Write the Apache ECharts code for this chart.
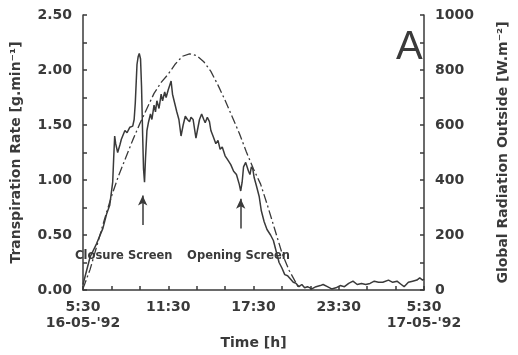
<!DOCTYPE html>
<html>
<head>
<meta charset="utf-8">
<script src="https://cdn.jsdelivr.net/npm/echarts@6/dist/echarts.min.js"></script>
<style>
  html, body { margin: 0; padding: 0; background: #fff; }
  #chart { width: 518px; height: 355px; }
</style>
</head>
<body>
<div id="chart"></div>
<script>
// Hours after 05:30 on 16-05-'92 and the transpiration rate [g/min]
const transHours = [
  0, 0.5, 0.95, 1.4, 1.66, 1.88, 2.09, 2.16, 2.23, 2.3, 2.44, 2.6, 2.7, 2.95, 3.1, 3.3, 3.5, 3.6, 3.68, 3.8,
  3.88, 3.96, 4.05, 4.12, 4.2, 4.26, 4.33, 4.4, 4.5, 4.6, 4.75, 4.85, 5.0, 5.1, 5.2, 5.35, 5.5, 5.6, 5.75, 5.85,
  6.0, 6.1, 6.2, 6.3, 6.45, 6.6, 6.75, 6.9, 7.05, 7.2, 7.35, 7.5, 7.6, 7.75, 7.95, 8.05, 8.2, 8.35, 8.5, 8.6,
  8.75, 8.9, 9.0, 9.15, 9.35, 9.5, 9.65, 9.8, 10.0, 10.2, 10.4, 10.6, 10.8, 11.0, 11.1, 11.2, 11.3, 11.45, 11.55, 11.65,
  11.75, 11.85, 11.95, 12.05, 12.2, 12.4, 12.55, 12.75, 12.95, 13.2, 13.4, 13.6, 13.8, 14.0, 14.2, 14.4, 14.6, 14.8, 15.0, 15.2,
  15.4, 15.6, 15.8, 16.1, 16.4, 16.7, 16.9, 17.2, 17.5, 17.8, 18.1, 18.4, 18.7, 19.0, 19.3, 19.6, 19.9, 20.2, 20.5, 20.8,
  21.1, 21.5, 21.8, 22.1, 22.4, 22.6, 22.9, 23.2, 23.5, 23.7, 23.9, 24
];
const transRate = [
  0.05, 0.30, 0.42, 0.56, 0.69, 0.77, 0.98, 1.20, 1.40, 1.33, 1.25, 1.32, 1.37, 1.45, 1.43, 1.48, 1.49, 1.55, 1.70, 2.05,
  2.12, 2.15, 2.10, 1.85, 1.40, 1.10, 0.98, 1.20, 1.45, 1.52, 1.60, 1.55, 1.68, 1.62, 1.72, 1.65, 1.78, 1.72, 1.80, 1.75,
  1.82, 1.86, 1.90, 1.78, 1.70, 1.62, 1.55, 1.40, 1.50, 1.58, 1.55, 1.53, 1.57, 1.55, 1.38, 1.45, 1.55, 1.60, 1.55, 1.52,
  1.57, 1.53, 1.45, 1.40, 1.33, 1.36, 1.28, 1.30, 1.22, 1.18, 1.14, 1.08, 1.05, 0.96, 0.90, 0.98, 1.12, 1.16, 1.15, 1.08,
  1.05, 1.12, 1.10, 1.02, 0.95, 0.85, 0.72, 0.62, 0.55, 0.50, 0.45, 0.35, 0.25, 0.20, 0.14, 0.13, 0.10, 0.07, 0.06, 0.03,
  0.05, 0.02, 0.03, 0.01, 0.03, 0.04, 0.05, 0.03, 0.01, 0.02, 0.04, 0.03, 0.06, 0.08, 0.05, 0.06, 0.05, 0.06, 0.08, 0.07,
  0.07, 0.09, 0.07, 0.08, 0.05, 0.03, 0.07, 0.08, 0.09, 0.11, 0.09, 0.10
];

// Global radiation outside [W/m2], daylight hours only
const radHours = [0, 0.5, 1.0, 1.5, 2.0, 2.5, 3.0, 3.5, 4.0, 4.5, 5.0, 5.5, 6.0, 6.5, 7.0, 7.5, 8.0, 8.5, 9.0, 9.5,
  10.0, 10.5, 11.0, 11.5, 12.0, 12.5, 13.0, 13.5, 14.0, 14.5, 15.0, 15.2];
const radiation = [5, 75, 165, 255, 340, 415, 480, 545, 605, 660, 715, 755, 785, 822, 850, 859, 852, 830, 795, 745,
  690, 630, 570, 502, 440, 385, 305, 220, 135, 72, 25, 5];

const xTickLabels = { 0: "5:30\n16-05-'92", 6: '11:30', 12: '17:30', 18: '23:30', 24: "5:30\n17-05-'92" };

// Screen events: [hour, arrow start, arrow tip]
const screenArrows = [[4.2, 0.59, 0.86], [11.1, 0.56, 0.83]];
const screenNotes = [['Closure Screen', 2.87, 0.31], ['Opening Screen', 10.95, 0.31]];

const ink = '#3a3a3a';
const font = 'DejaVu Sans';

const chart = echarts.init(document.getElementById('chart'), null, { renderer: 'canvas' });

const labelStyle = { color: ink, fontFamily: font, fontWeight: 'bold', fontSize: 14 };

chart.setOption({
  animation: false,
  backgroundColor: '#fff',
  grid: { left: 83, right: 91, top: 15, bottom: 63 },
  xAxis: {
    type: 'value', min: 0, max: 24, interval: 6,
    name: 'Time [h]', nameLocation: 'middle', nameGap: 46,
    nameTextStyle: labelStyle,
    axisLine: { lineStyle: { color: ink, width: 1.5 } },
    axisTick: { inside: true, length: 4, lineStyle: { color: ink, width: 1.5 } },
    minorTick: { show: true, splitNumber: 3, length: 4, lineStyle: { color: ink, width: 1.5 } },
    splitLine: { show: false },
    axisLabel: Object.assign({}, labelStyle, {
      margin: 9, lineHeight: 16,
      formatter: v => xTickLabels[v] || ''
    })
  },
  yAxis: [{
    type: 'value', min: 0, max: 2.5, interval: 0.5,
    name: 'Transpiration Rate [g.min⁻¹]', nameLocation: 'middle', nameGap: 60,
    nameTextStyle: labelStyle,
    axisLine: { show: true, lineStyle: { color: ink, width: 1.5 } },
    axisTick: { show: true, inside: true, length: 4, lineStyle: { color: ink, width: 1.5 } },
    minorTick: { show: true, splitNumber: 2, length: 4, lineStyle: { color: ink, width: 1.5 } },
    splitLine: { show: false },
    axisLabel: Object.assign({}, labelStyle, { margin: 11, formatter: v => v.toFixed(2) })
  }, {
    type: 'value', min: 0, max: 1000, interval: 200, position: 'right',
    name: 'Global Radiation Outside [W.m⁻²]', nameLocation: 'middle', nameGap: 72, nameRotate: 90,
    nameTextStyle: labelStyle,
    axisLine: { show: true, lineStyle: { color: ink, width: 1.5 } },
    axisTick: { show: true, inside: true, length: 4, lineStyle: { color: ink, width: 1.5 } },
    minorTick: { show: true, splitNumber: 2, length: 4, lineStyle: { color: ink, width: 1.5 } },
    splitLine: { show: false },
    axisLabel: Object.assign({}, labelStyle, { margin: 11, formatter: v => String(v) })
  }],
  series: [{
    name: 'Transpiration', type: 'line', yAxisIndex: 0,
    data: transHours.map((h, i) => [h, transRate[i]]),
    showSymbol: false, symbol: 'none',
    lineStyle: { color: ink, width: 1.5 },
    markLine: {
      silent: true, symbol: ['none', 'arrow'], symbolSize: [7, 10],
      lineStyle: { color: ink, width: 1.5, type: 'solid' },
      label: { show: false },
      data: screenArrows.map(a => [{ coord: [a[0], a[1]] }, { coord: [a[0], a[2]] }])
    },
    markPoint: {
      silent: true, symbol: 'circle', symbolSize: 0,
      label: {
        show: true, position: 'inside', color: ink, fontFamily: font, fontWeight: 'bold', fontSize: 11.5,
        formatter: p => p.name
      },
      data: screenNotes.map(n => ({ name: n[0], coord: [n[1], n[2]] }))
    }
  }, {
    name: 'Radiation', type: 'line', yAxisIndex: 1,
    data: radHours.map((h, i) => [h, radiation[i]]),
    showSymbol: false, symbol: 'none',
    lineStyle: { color: ink, width: 1.3, type: [9, 3, 2, 3] }
  }],
  graphic: [{
    type: 'text', left: 396, top: 28,
    style: { text: 'A', fill: ink, font: '40px "Liberation Sans"' }
  }]
});
</script>
</body>
</html>
